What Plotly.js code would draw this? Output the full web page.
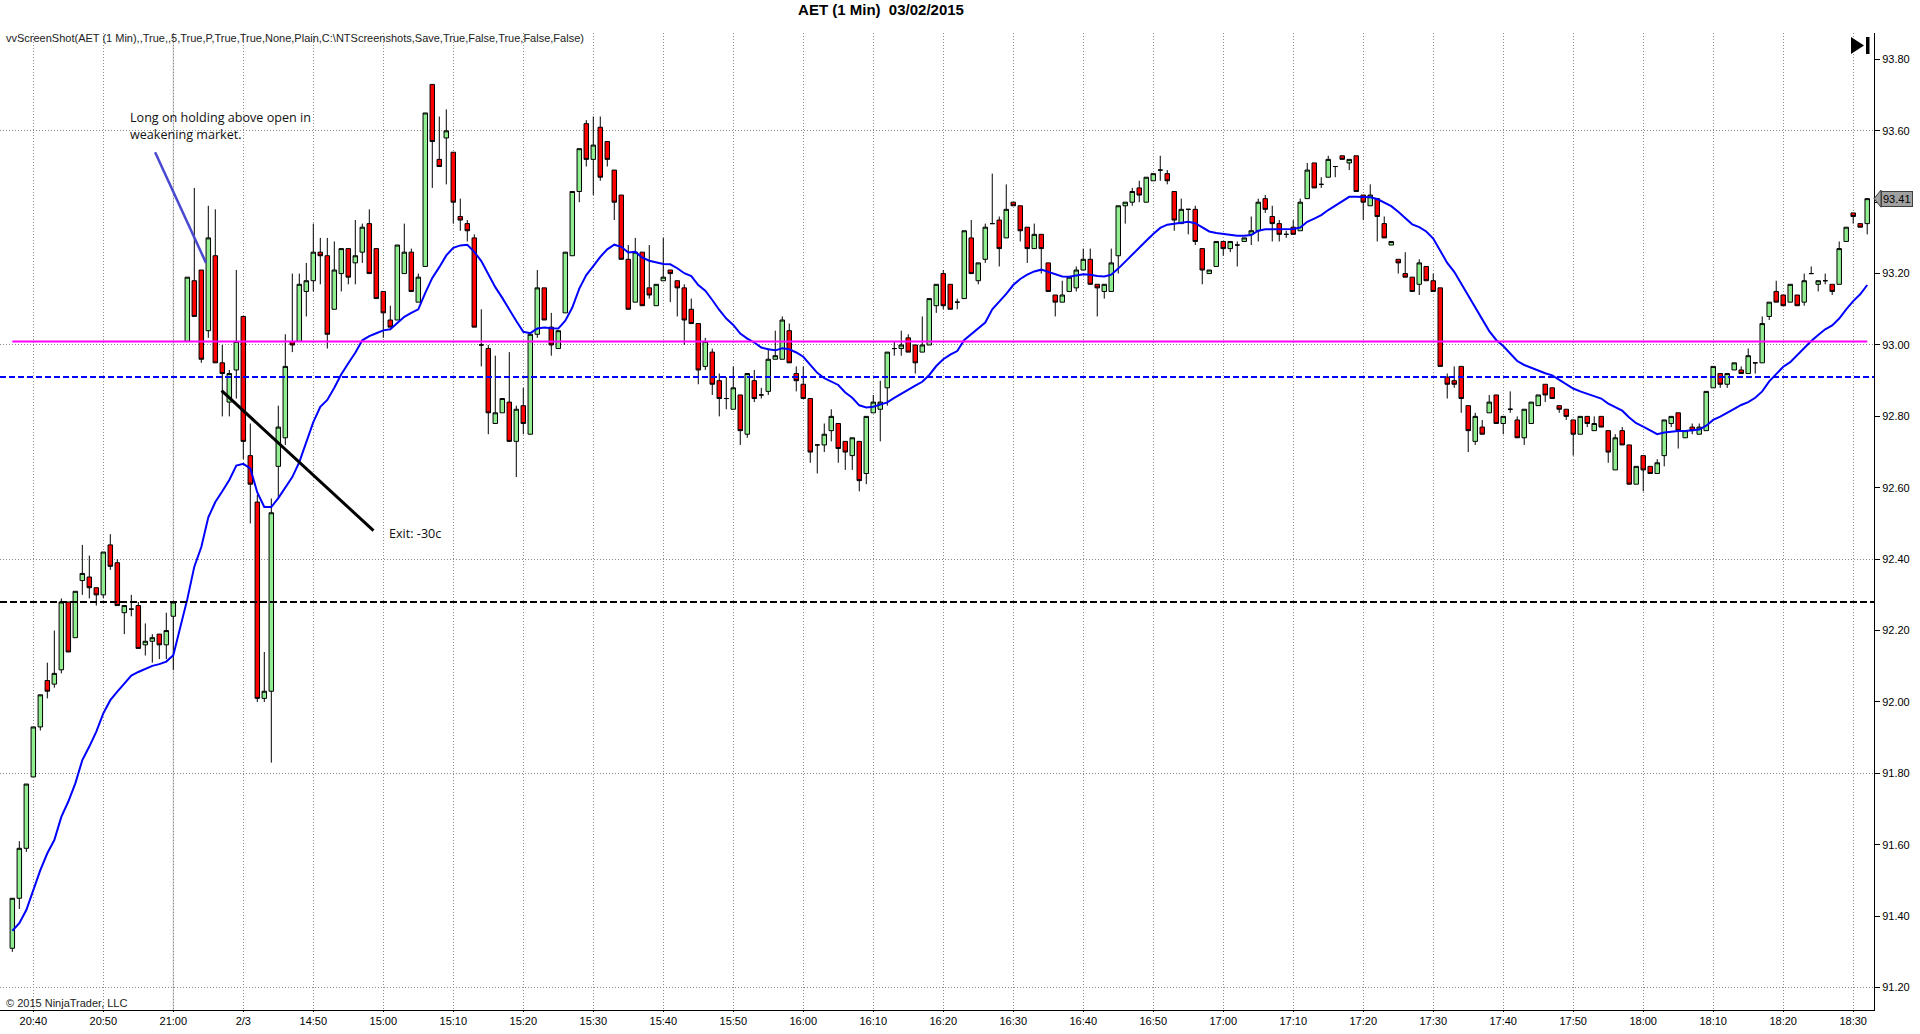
<!DOCTYPE html>
<html>
<head>
<meta charset="utf-8">
<script src="https://cdn.plot.ly/plotly-3.0.1.min.js"></script>
<style>
  html, body { margin: 0; padding: 0; background: #fff; }
  #chart { width: 1920px; height: 1034px; }
</style>
</head>
<body>
<div id="chart"></div>
<script>
// AET 1 min bars (bar 24 is the session gap)
var tickIdx = [3, 13, 23, 33, 43, 53, 63, 73, 83, 93, 103, 113, 123, 133, 143, 153, 163, 173, 183, 193, 203, 213, 223, 233, 243, 253, 263];
var tickText = ["20:40", "20:50", "21:00", "2/3", "14:50", "15:00", "15:10", "15:20", "15:30", "15:40", "15:50", "16:00", "16:10", "16:20",
  "16:30", "16:40", "16:50", "17:00", "17:10", "17:20", "17:30", "17:40", "17:50", "18:00", "18:10", "18:20", "18:30"];

var opens = [
  91.31, 91.45, 91.59, 91.79, 91.93, 92.06, 92.05, 92.09, 92.28, 92.18,
  92.34, 92.35, 92.32, 92.30, 92.44, 92.39, 92.25, 92.26, 92.27, 92.16,
  92.17, 92.19, 92.16, 92.24, null, 93.01, 93.18, 93.21, 93.04, 93.25,
  92.95, 92.84, 92.93, 93.08, 92.69, 92.56, 92.01, 92.03, 92.66, 92.74,
  93.01, 93.01, 93.15, 93.18, 93.26, 93.25, 93.10, 93.20, 93.27, 93.23,
  93.26, 93.34, 93.27, 93.15, 93.07, 93.07, 93.20, 93.26, 93.12, 93.22,
  93.73, 93.52, 93.58, 93.54, 93.36, 93.34, 93.30, 93.00, 92.99, 92.78,
  92.81, 92.84, 92.73, 92.83, 92.75, 93.03, 93.16, 93.05, 92.99, 93.09,
  93.25, 93.43, 93.62, 93.52, 93.61, 93.57, 93.49, 93.42, 93.24, 93.12,
  93.26, 93.16, 93.11, 93.18, 93.21, 93.18, 93.16, 93.10, 93.06, 92.94,
  92.98, 92.90, 92.85, 92.82, 92.86, 92.75, 92.90, 92.86, 92.87, 92.96,
  92.96, 93.04, 92.92, 92.89, 92.85, 92.72, 92.72, 92.76, 92.78, 92.73,
  92.69, 92.73, 92.64, 92.81, 92.82, 92.88, 92.99, 92.99, 93.02, 93.00,
  92.98, 93.00, 93.11, 93.20, 93.17, 93.12, 93.13, 93.30, 93.18, 93.24,
  93.34, 93.35, 93.30, 93.40, 93.39, 93.33, 93.27, 93.31, 93.23, 93.14,
  93.12, 93.15, 93.16, 93.21, 93.24, 93.17, 93.15, 93.15, 93.25, 93.39,
  93.40, 93.44, 93.40, 93.46, 93.49, 93.48, 93.43, 93.34, 93.38, 93.38,
  93.27, 93.20, 93.22, 93.29, 93.27, 93.28, 93.29, 93.31, 93.32, 93.41,
  93.36, 93.34, 93.31, 93.33, 93.32, 93.41, 93.51, 93.45, 93.47, 93.50,
  93.53, 93.51, 93.53, 93.42, 93.39, 93.41, 93.34, 93.28, 93.24, 93.20,
  93.19, 93.17, 93.22, 93.18, 93.16, 92.91, 92.90, 92.94, 92.83, 92.73,
  92.77, 92.81, 92.86, 92.78, 92.82, 92.79, 92.74, 92.78, 92.83, 92.89,
  92.88, 92.83, 92.82, 92.79, 92.75, 92.80, 92.76, 92.80, 92.76, 92.65,
  92.76, 92.72, 92.61, 92.69, 92.66, 92.64, 92.69, 92.78, 92.81, 92.74,
  92.77, 92.75, 92.76, 92.88, 92.92, 92.89, 92.93, 92.93, 92.92, 92.95,
  92.95, 93.08, 93.15, 93.14, 93.12, 93.14, 93.12, 93.20, 93.17, 93.18,
  93.17, 93.17, 93.29, 93.37, 93.34, 93.34
];
var highs = [
  91.45, 91.61, 91.77, 91.93, 92.02, 92.11, 92.20, 92.29, 92.28, 92.31,
  92.44, 92.41, 92.32, 92.42, 92.47, 92.40, 92.27, 92.30, 92.28, 92.22,
  92.19, 92.19, 92.25, 92.28, null, 93.19, 93.44, 93.21, 93.39, 93.38,
  93.00, 92.93, 93.21, 93.08, 92.78, 92.58, 92.14, 92.57, 92.83, 93.03,
  93.20, 93.20, 93.23, 93.34, 93.30, 93.30, 93.29, 93.27, 93.27, 93.35,
  93.34, 93.38, 93.27, 93.15, 93.11, 93.28, 93.34, 93.27, 93.20, 93.65,
  93.73, 93.64, 93.66, 93.54, 93.41, 93.35, 93.31, 93.10, 93.00, 92.97,
  92.85, 92.98, 92.83, 92.88, 93.03, 93.21, 93.16, 93.09, 93.04, 93.26,
  93.43, 93.55, 93.63, 93.64, 93.64, 93.57, 93.49, 93.42, 93.28, 93.30,
  93.26, 93.28, 93.17, 93.30, 93.21, 93.18, 93.17, 93.13, 93.06, 93.02,
  92.99, 92.92, 92.91, 92.94, 92.86, 92.92, 92.93, 92.88, 92.99, 93.04,
  93.08, 93.06, 92.94, 92.94, 92.85, 92.72, 92.78, 92.82, 92.78, 92.73,
  92.74, 92.73, 92.80, 92.86, 92.90, 92.98, 93.01, 93.04, 93.03, 93.00,
  93.08, 93.13, 93.17, 93.21, 93.17, 93.13, 93.32, 93.35, 93.23, 93.34,
  93.48, 93.36, 93.45, 93.40, 93.39, 93.33, 93.34, 93.31, 93.23, 93.14,
  93.18, 93.19, 93.22, 93.27, 93.27, 93.17, 93.17, 93.27, 93.39, 93.40,
  93.44, 93.46, 93.47, 93.48, 93.53, 93.49, 93.43, 93.41, 93.38, 93.39,
  93.27, 93.21, 93.29, 93.29, 93.29, 93.29, 93.30, 93.36, 93.41, 93.42,
  93.39, 93.35, 93.32, 93.35, 93.41, 93.51, 93.51, 93.47, 93.53, 93.50,
  93.53, 93.52, 93.53, 93.42, 93.45, 93.41, 93.36, 93.29, 93.24, 93.26,
  93.19, 93.24, 93.22, 93.20, 93.16, 92.92, 92.94, 92.94, 92.83, 92.81,
  92.79, 92.86, 92.86, 92.80, 92.87, 92.80, 92.82, 92.84, 92.86, 92.89,
  92.88, 92.83, 92.82, 92.79, 92.80, 92.80, 92.80, 92.80, 92.76, 92.75,
  92.77, 92.72, 92.66, 92.69, 92.66, 92.68, 92.79, 92.80, 92.81, 92.76,
  92.78, 92.78, 92.87, 92.94, 92.92, 92.92, 92.95, 92.94, 92.99, 92.95,
  93.08, 93.12, 93.18, 93.14, 93.17, 93.14, 93.20, 93.22, 93.18, 93.20,
  93.17, 93.29, 93.33, 93.37, 93.34, 93.41
];
var lows = [
  91.30, 91.42, 91.58, 91.79, 91.92, 92.01, 92.04, 92.08, 92.14, 92.18,
  92.30, 92.29, 92.27, 92.29, 92.37, 92.27, 92.19, 92.24, 92.15, 92.13,
  92.11, 92.12, 92.12, 92.09, null, 93.01, 93.08, 92.95, 93.02, 92.95,
  92.80, 92.80, 92.85, 92.68, 92.50, 92.00, 92.00, 91.83, 92.57, 92.72,
  92.98, 93.01, 93.08, 93.15, 93.17, 92.99, 93.10, 93.15, 93.17, 93.17,
  93.23, 93.20, 93.13, 93.02, 93.05, 93.07, 93.20, 93.15, 93.12, 93.22,
  93.44, 93.50, 93.45, 93.34, 93.32, 93.29, 93.05, 92.94, 92.75, 92.78,
  92.81, 92.73, 92.63, 92.75, 92.75, 93.02, 93.07, 92.97, 92.99, 93.09,
  93.25, 93.40, 93.50, 93.42, 93.46, 93.50, 93.35, 93.24, 93.10, 93.12,
  93.11, 93.13, 93.11, 93.18, 93.12, 93.08, 93.00, 93.06, 92.89, 92.93,
  92.86, 92.80, 92.82, 92.82, 92.72, 92.74, 92.84, 92.85, 92.86, 92.96,
  92.96, 92.95, 92.87, 92.85, 92.67, 92.64, 92.70, 92.73, 92.67, 92.65,
  92.65, 92.59, 92.61, 92.81, 92.73, 92.83, 92.97, 92.97, 92.98, 92.92,
  92.98, 93.00, 93.09, 93.10, 93.10, 93.10, 93.13, 93.20, 93.17, 93.23,
  93.34, 93.22, 93.30, 93.39, 93.29, 93.23, 93.27, 93.20, 93.15, 93.08,
  93.12, 93.15, 93.15, 93.21, 93.17, 93.08, 93.13, 93.15, 93.20, 93.34,
  93.39, 93.40, 93.40, 93.46, 93.46, 93.45, 93.32, 93.34, 93.31, 93.28,
  93.17, 93.20, 93.22, 93.25, 93.26, 93.22, 93.29, 93.28, 93.29, 93.37,
  93.29, 93.29, 93.30, 93.31, 93.32, 93.41, 93.44, 93.44, 93.47, 93.47,
  93.52, 93.49, 93.43, 93.35, 93.39, 93.29, 93.30, 93.28, 93.20, 93.19,
  93.15, 93.14, 93.18, 93.15, 92.94, 92.85, 92.88, 92.81, 92.70, 92.72,
  92.75, 92.81, 92.78, 92.75, 92.81, 92.74, 92.72, 92.78, 92.83, 92.84,
  92.85, 92.81, 92.79, 92.69, 92.75, 92.77, 92.76, 92.77, 92.67, 92.65,
  92.72, 92.61, 92.61, 92.59, 92.64, 92.64, 92.66, 92.77, 92.71, 92.74,
  92.75, 92.75, 92.76, 92.88, 92.88, 92.88, 92.93, 92.92, 92.92, 92.92,
  92.95, 93.07, 93.12, 93.11, 93.12, 93.11, 93.11, 93.20, 93.15, 93.17,
  93.14, 93.17, 93.29, 93.34, 93.33, 93.31
];
var closes = [
  91.45, 91.59, 91.77, 91.93, 92.02, 92.03, 92.08, 92.28, 92.14, 92.31,
  92.36, 92.32, 92.30, 92.42, 92.38, 92.27, 92.27, 92.26, 92.15, 92.17,
  92.18, 92.16, 92.20, 92.28, null, 93.19, 93.08, 92.96, 93.30, 92.95,
  92.92, 92.92, 93.01, 92.73, 92.61, 92.01, 92.03, 92.53, 92.77, 92.94,
  93.00, 93.17, 93.18, 93.26, 93.25, 93.03, 93.21, 93.27, 93.19, 93.25,
  93.33, 93.20, 93.13, 93.09, 93.05, 93.28, 93.26, 93.15, 93.19, 93.65,
  93.57, 93.50, 93.60, 93.40, 93.35, 93.32, 93.05, 93.00, 92.81, 92.81,
  92.85, 92.73, 92.82, 92.78, 93.03, 93.16, 93.07, 93.00, 93.04, 93.26,
  93.43, 93.55, 93.52, 93.56, 93.47, 93.52, 93.40, 93.24, 93.10, 93.26,
  93.11, 93.14, 93.17, 93.19, 93.20, 93.16, 93.07, 93.06, 92.93, 93.01,
  92.89, 92.85, 92.85, 92.88, 92.76, 92.92, 92.85, 92.86, 92.96, 92.97,
  93.07, 92.95, 92.90, 92.85, 92.70, 92.72, 92.75, 92.80, 92.71, 92.70,
  92.74, 92.62, 92.80, 92.84, 92.84, 92.98, 92.99, 93.00, 92.98, 92.95,
  93.00, 93.13, 93.17, 93.11, 93.10, 93.12, 93.32, 93.20, 93.23, 93.33,
  93.34, 93.27, 93.38, 93.39, 93.32, 93.27, 93.31, 93.27, 93.15, 93.12,
  93.14, 93.19, 93.21, 93.24, 93.17, 93.16, 93.17, 93.23, 93.39, 93.40,
  93.43, 93.42, 93.47, 93.48, 93.49, 93.46, 93.35, 93.38, 93.38, 93.29,
  93.21, 93.21, 93.29, 93.27, 93.29, 93.28, 93.30, 93.32, 93.40, 93.38,
  93.34, 93.31, 93.31, 93.31, 93.40, 93.49, 93.44, 93.45, 93.52, 93.50,
  93.52, 93.52, 93.43, 93.40, 93.42, 93.36, 93.30, 93.29, 93.23, 93.19,
  93.15, 93.23, 93.18, 93.15, 92.94, 92.89, 92.89, 92.85, 92.76, 92.80,
  92.75, 92.84, 92.78, 92.80, 92.82, 92.74, 92.82, 92.84, 92.86, 92.86,
  92.85, 92.82, 92.80, 92.75, 92.80, 92.78, 92.78, 92.77, 92.70, 92.74,
  92.72, 92.61, 92.66, 92.65, 92.64, 92.67, 92.79, 92.80, 92.76, 92.76,
  92.76, 92.77, 92.87, 92.94, 92.89, 92.92, 92.95, 92.92, 92.97, 92.95,
  93.06, 93.12, 93.12, 93.11, 93.17, 93.11, 93.18, 93.20, 93.18, 93.18,
  93.15, 93.27, 93.33, 93.36, 93.33, 93.41
];
// moving average drawn in blue
var ema = [
  91.359, 91.380, 91.417, 91.473, 91.529, 91.576, 91.613, 91.678, 91.721, 91.772,
  91.837, 91.875, 91.917, 91.968, 92.005, 92.029, 92.052, 92.074, 92.084, 92.092,
  92.101, 92.106, 92.113, 92.131, null, 92.288, 92.379, 92.434, 92.517, 92.560,
  92.590, 92.622, 92.662, 92.667, 92.654, 92.587, 92.546, 92.546, 92.571, 92.600,
  92.630, 92.672, 92.728, 92.784, 92.827, 92.846, 92.880, 92.918, 92.949, 92.978,
  93.013, 93.025, 93.033, 93.041, 93.044, 93.062, 93.079, 93.090, 93.100, 93.146,
  93.188, 93.218, 93.251, 93.272, 93.279, 93.281, 93.261, 93.235, 93.197, 93.162,
  93.132, 93.098, 93.067, 93.037, 93.033, 93.046, 93.049, 93.047, 93.046, 93.068,
  93.105, 93.158, 93.196, 93.221, 93.247, 93.268, 93.281, 93.275, 93.259, 93.261,
  93.245, 93.236, 93.231, 93.227, 93.226, 93.215, 93.201, 93.193, 93.168, 93.152,
  93.126, 93.098, 93.074, 93.056, 93.032, 93.018, 93.007, 92.993, 92.988, 92.985,
  92.991, 92.988, 92.979, 92.967, 92.944, 92.922, 92.907, 92.898, 92.888, 92.867,
  92.852, 92.831, 92.825, 92.827, 92.832, 92.839, 92.852, 92.864, 92.875, 92.886,
  92.897, 92.916, 92.941, 92.960, 92.973, 92.983, 93.014, 93.030, 93.045, 93.063,
  93.100, 93.120, 93.143, 93.168, 93.185, 93.197, 93.206, 93.211, 93.204, 93.197,
  93.192, 93.191, 93.194, 93.198, 93.197, 93.193, 93.192, 93.197, 93.214, 93.234,
  93.254, 93.273, 93.292, 93.311, 93.328, 93.337, 93.339, 93.342, 93.345, 93.341,
  93.329, 93.318, 93.314, 93.311, 93.309, 93.306, 93.306, 93.308, 93.320, 93.324,
  93.324, 93.324, 93.324, 93.325, 93.329, 93.345, 93.354, 93.364, 93.378, 93.390,
  93.402, 93.415, 93.415, 93.415, 93.414, 93.409, 93.400, 93.389, 93.373, 93.355,
  93.338, 93.330, 93.318, 93.298, 93.266, 93.230, 93.205, 93.171, 93.137, 93.103,
  93.069, 93.039, 93.014, 92.997, 92.976, 92.955, 92.944, 92.936, 92.927, 92.921,
  92.915, 92.903, 92.890, 92.878, 92.870, 92.863, 92.857, 92.850, 92.836, 92.827,
  92.816, 92.797, 92.781, 92.771, 92.761, 92.750, 92.755, 92.758, 92.759, 92.759,
  92.760, 92.763, 92.774, 92.790, 92.799, 92.809, 92.821, 92.832, 92.840, 92.852,
  92.870, 92.898, 92.920, 92.939, 92.952, 92.972, 92.991, 93.011, 93.028, 93.044,
  93.055, 93.074, 93.100, 93.123, 93.142, 93.168
];

var openLevel = 93.01;    // magenta, session open
var stopLevel = 92.91;    // blue dashed
var priorLevel = 92.28;   // black dashed
var gridLevels = [91.2, 91.8, 92.4, 93.0, 93.6];
var yRange = [91.137, 93.874];
var xRange = [-1.76, 265.97];

// entry note arrow and the exit line, in bar / price units
var noteArrow = { x0: 20.4, y0: 93.54, x1: 27.67, y1: 93.23 };
var exitLine = { x0: 29.9, y0: 92.872, x1: 51.6, y1: 92.48 };

var W = 1920, H = 1034;
var M = { l: 0, r: 46, t: 33, b: 24 };
function px(x) { return (x - M.l) / (W - M.l - M.r); }
function py(y) { return 1 - (y - M.t) / (H - M.t - M.b); }

var xs = [];
for (var i = 0; i < closes.length; i++) xs.push(i);

var yTicks = [];
for (var v = 91.2; v < 93.81; v += 0.2) yTicks.push(Math.round(v * 100) / 100);

var lastClose = closes[closes.length - 1];
var TXT = "Liberation Sans, Arial, sans-serif";
var NOTE = "Open Sans, sans-serif";

var candles = {
  type: "candlestick",
  x: xs, open: opens, high: highs, low: lows, close: closes,
  xaxis: "x", yaxis: "y",
  whiskerwidth: 0,
  increasing: { line: { color: "#000000", width: 1 }, fillcolor: "#90EE90" },
  decreasing: { line: { color: "#000000", width: 1 }, fillcolor: "#FF0000" },
  hoverinfo: "skip",
  showlegend: false
};

var avgLine = {
  type: "scatter", mode: "lines",
  x: xs, y: ema, connectgaps: true,
  xaxis: "x", yaxis: "y2",
  line: { color: "#0000FF", width: 2 },
  hoverinfo: "skip", showlegend: false
};

var shapes = [
  { type: "line", xref: "x", yref: "paper", x0: tickIdx[2], x1: tickIdx[2], y0: 0, y1: 1,
    line: { color: "#c0c0c0", width: 1 }, layer: "below" },
  { type: "line", xref: "x", yref: "y", x0: 0, x1: closes.length - 1, y0: openLevel, y1: openLevel,
    line: { color: "#FF00FF", width: 2 } },
  { type: "line", xref: "paper", yref: "y", x0: 0, x1: 1, y0: stopLevel, y1: stopLevel,
    line: { color: "#0000FF", width: 2, dash: "6px,3px" } },
  { type: "line", xref: "paper", yref: "y", x0: 0, x1: 1, y0: priorLevel, y1: priorLevel,
    line: { color: "#000000", width: 2, dash: "7px,3px" } },
  { type: "line", xref: "x", yref: "y", x0: noteArrow.x0, y0: noteArrow.y0, x1: noteArrow.x1, y1: noteArrow.y1,
    line: { color: "#4848d0", width: 2.5 } },
  { type: "line", xref: "x", yref: "y", x0: exitLine.x0, y0: exitLine.y0, x1: exitLine.x1, y1: exitLine.y1,
    line: { color: "#000000", width: 3 } },
  // last price tag tip
  { type: "path", xref: "paper", yref: "y",
    path: "M " + px(1874) + "," + lastClose + " L " + px(1881) + "," + (lastClose + 0.024) +
      " L " + px(1881) + "," + (lastClose - 0.024) + " Z",
    fillcolor: "#a0a0a0", line: { color: "#404040", width: 1 } },
  // "go to end" button
  { type: "path", xref: "paper", yref: "paper",
    path: "M " + px(1851) + "," + py(37) + " L " + px(1864) + "," + py(45.5) + " L " + px(1851) + "," + py(54) + " Z",
    fillcolor: "#000000", line: { width: 0 } },
  { type: "rect", xref: "paper", yref: "paper", x0: px(1866), x1: px(1869.5), y0: py(37), y1: py(54),
    fillcolor: "#000000", line: { width: 0 } }
];

var annotations = [
  { xref: "paper", yref: "paper", x: px(4), y: py(38), xanchor: "left", yanchor: "middle", showarrow: false,
    text: "vvScreenShot(AET (1 Min),,True,,5,True,P,True,True,None,Plain,C:\\NTScreenshots,Save,True,False,True,False,False)",
    font: { family: TXT, size: 11, color: "#222" } },
  { xref: "paper", yref: "paper", x: px(4), y: py(1003), xanchor: "left", yanchor: "middle", showarrow: false,
    text: "© 2015 NinjaTrader, LLC", font: { family: TXT, size: 11, color: "#222" } },
  { xref: "paper", yref: "paper", x: px(128), y: py(117), xanchor: "left", yanchor: "middle", showarrow: false,
    text: "Long on holding above open in", font: { family: NOTE, size: 12.6, color: "#111" } },
  { xref: "paper", yref: "paper", x: px(128), y: py(135), xanchor: "left", yanchor: "middle", showarrow: false,
    text: "weakening market.", font: { family: NOTE, size: 12.6, color: "#111" } },
  { xref: "paper", yref: "paper", x: px(387), y: py(533), xanchor: "left", yanchor: "middle", showarrow: false,
    text: "Exit: -30c", font: { family: NOTE, size: 12.6, color: "#111" } },
  { xref: "paper", yref: "y", x: px(1881), y: lastClose, xanchor: "left", yanchor: "middle", showarrow: false,
    text: lastClose.toFixed(2), bgcolor: "#a0a0a0", bordercolor: "#404040", borderwidth: 1, borderpad: 1,
    font: { family: TXT, size: 11, color: "#000" } }
];

var layout = {
  width: W, height: H,
  margin: M,
  paper_bgcolor: "#ffffff", plot_bgcolor: "#ffffff",
  showlegend: false,
  boxgap: 0.36,
  boxgroupgap: 0,
  title: {
    text: "<b>AET (1 Min)&nbsp; 03/02/2015</b>",
    font: { family: TXT, size: 15, color: "#000" },
    xref: "paper", x: px(881), xanchor: "center",
    yref: "container", y: 1 - 10 / H, yanchor: "middle"
  },
  xaxis: {
    type: "linear", range: xRange, rangeslider: { visible: false },
    tickmode: "array", tickvals: tickIdx, ticktext: tickText,
    showgrid: true, gridcolor: "#8a8a8a", griddash: "1px,2px", gridwidth: 1,
    zeroline: false, showline: true, linecolor: "#000", linewidth: 1,
    ticks: "outside", ticklen: 1, tickcolor: "#000",
    tickfont: { family: TXT, size: 11, color: "#000" },
    fixedrange: true
  },
  yaxis: {
    range: yRange, side: "right",
    tickmode: "array", tickvals: yTicks, tickformat: ".2f",
    showgrid: false, zeroline: false,
    showline: true, linecolor: "#000", linewidth: 1,
    ticks: "outside", ticklen: 5, tickcolor: "#000",
    tickfont: { family: TXT, size: 11, color: "#000" },
    fixedrange: true
  },
  yaxis2: {
    range: yRange, overlaying: "y", side: "right",
    tickmode: "array", tickvals: gridLevels,
    showgrid: true, gridcolor: "#8a8a8a", griddash: "1px,2px", gridwidth: 1,
    showticklabels: false, ticks: "", zeroline: false, showline: false,
    fixedrange: true
  },
  shapes: shapes,
  annotations: annotations
};

Plotly.newPlot("chart", [candles, avgLine], layout, { staticPlot: true, displayModeBar: false });
</script>
</body>
</html>
